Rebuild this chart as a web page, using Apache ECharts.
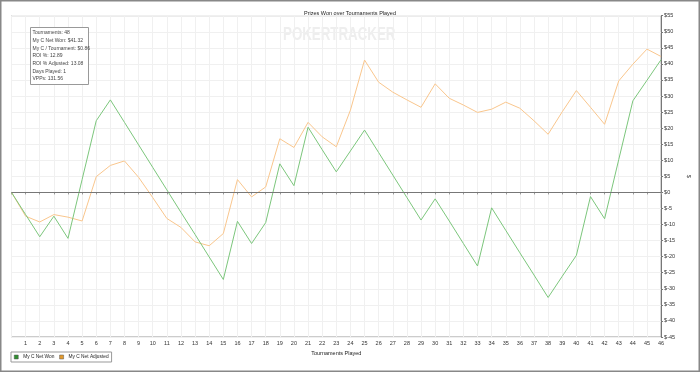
<!DOCTYPE html>
<html>
<head>
<meta charset="utf-8">
<script src="https://cdn.jsdelivr.net/npm/echarts@6/dist/echarts.min.js"></script>
<style>html,body{margin:0;padding:0;background:#fff}#c{width:700px;height:372px}</style>
</head>
<body>
<div id="c"></div>
<script>
const categories = [];
for (let i = 0; i <= 46; i++) categories.push(String(i));
const netWon = [0, -6.9, -13.8, -7.4, -14.3, 4.0, 22.3, 28.8, 21.8, 14.8, 7.8, 0.8, -6.2, -13.1, -20.1, -27.1, -9.0, -15.9, -9.4, 8.9, 2.1, 20.3, 13.3, 6.4, 12.9, 19.4, 12.4, 5.4, -1.6, -8.6, -2.0, -8.9, -15.9, -22.9, -4.8, -11.8, -18.8, -25.7, -32.7, -26.1, -19.6, -1.3, -8.2, 10.2, 28.5, 34.9, 41.32];
const netAdjusted = [0, -7.4, -9.2, -6.9, -7.7, -8.9, 4.9, 8.4, 9.8, 4.7, -1.6, -8.1, -10.9, -15.4, -16.6, -12.8, 4.0, -1.4, 1.7, 16.7, 14.0, 21.8, 17.3, 14.2, 25.6, 41.2, 34.3, 31.2, 28.8, 26.5, 33.8, 29.3, 27.2, 24.9, 25.9, 28.1, 26.2, 22.3, 18.1, 25.1, 31.7, 26.5, 21.2, 34.7, 39.9, 44.6, 42.3];
const seriesNames = ['My C Net Won', 'My C Net Adjusted'];
const infoLines = ['Tournaments: 48', 'My C Net Won: $41.32', 'My C / Tournament: $0.86', 'ROI %: 12.89', 'ROI % Adjusted: 13.08', 'Days Played: 1', 'VPPs: 131.56'];
const titleText = 'Prizes Won over Tournaments Played';
const xName = 'Tournaments Played';
const yName = '$';

const FONT = 'Liberation Sans, Arial, sans-serif';
const chart = echarts.init(document.getElementById('c'), null, {renderer: 'canvas'});
chart.setOption({
  animation: false,
  backgroundColor: '#fff',
  title: {text: titleText, left: 'center', top: 5, textStyle: {fontSize: 5.5, fontWeight: 'normal', color: '#222', fontFamily: FONT}},
  grid: {left: 11.5, top: 15.7, right: 32.5, bottom: 35, show: true, borderColor: '#999', borderWidth: 1, backgroundColor: 'transparent'},
  legend: {
    left: 11, top: 352, orient: 'horizontal', itemWidth: 4, itemHeight: 4, itemGap: 5,
    borderColor: '#999', borderWidth: 1, padding: [2.5, 3, 2.5, 3],
    textStyle: {fontSize: 4.8, color: '#222', fontFamily: FONT},
    data: [
      {name: seriesNames[0], icon: 'rect', itemStyle: {color: '#2f8f2f', borderColor: '#555', borderWidth: 0.5}},
      {name: seriesNames[1], icon: 'rect', itemStyle: {color: '#e39a2d', borderColor: '#555', borderWidth: 0.5}}
    ]
  },
  xAxis: {
    type: 'category', data: categories, boundaryGap: false,
    name: xName, nameLocation: 'middle', nameGap: 9,
    nameTextStyle: {fontSize: 5.5, color: '#222', fontFamily: FONT},
    axisLine: {lineStyle: {color: '#777', width: 1}},
    axisTick: {show: true, length: 2, lineStyle: {color: '#999'}, interval: 0},
    axisLabel: {fontSize: 5.5, color: '#333', fontFamily: FONT, interval: 0, margin: 3, formatter: v => v === '0' ? '' : v},
    splitLine: {show: true, interval: 0, lineStyle: {color: '#f0f0f0', width: 1}}
  },
  yAxis: {
    type: 'value', position: 'right', min: -45, max: 55, interval: 5,
    name: yName, nameLocation: 'middle', nameGap: 15, nameRotate: -90,
    nameTextStyle: {fontSize: 5.5, color: '#333', fontFamily: FONT},
    axisLine: {show: true, lineStyle: {color: '#777', width: 1}},
    axisTick: {show: true, length: 2, lineStyle: {color: '#777'}},
    axisLabel: {fontSize: 5.5, color: '#333', fontFamily: FONT, margin: 3, formatter: v => '$' + v},
    splitLine: {show: true, lineStyle: {color: '#f0f0f0', width: 1}}
  },
  graphic: [
    {type: 'text', left: 283, top: 26, z: 0, scaleX: 0.74, style: {text: 'POKERTRACKER', fontSize: 18, fontWeight: 'bold', fill: '#eeeeee', fontFamily: FONT}},
    {type: 'rect', shape: {x: 30.5, y: 27.5, width: 58, height: 57}, style: {fill: '#fff', stroke: '#999', lineWidth: 1}, z: 10},
    {type: 'text', x: 32.5, y: 29, z: 11, style: {text: infoLines.join('\n'), fontSize: 5, lineHeight: 7.67, fill: '#444', fontFamily: FONT}},
    {type: 'rect', shape: {x: 0.75, y: 0.75, width: 698.5, height: 370.5}, style: {fill: 'none', stroke: '#888', lineWidth: 1.5}, z: 20, silent: true}
  ],
  series: [
    {name: seriesNames[1], type: 'line', data: netAdjusted, symbol: 'none', lineStyle: {color: '#f9c68d', width: 1}, itemStyle: {color: '#e39a2d'},
      markLine: {silent: true, symbol: 'none', label: {show: false}, lineStyle: {color: '#777', width: 1, type: 'solid'}, data: [{yAxis: 0}]}},
    {name: seriesNames[0], type: 'line', data: netWon, symbol: 'none', lineStyle: {color: '#7cc67c', width: 1}, itemStyle: {color: '#2f8f2f'}}
  ]
});
</script>
</body>
</html>
